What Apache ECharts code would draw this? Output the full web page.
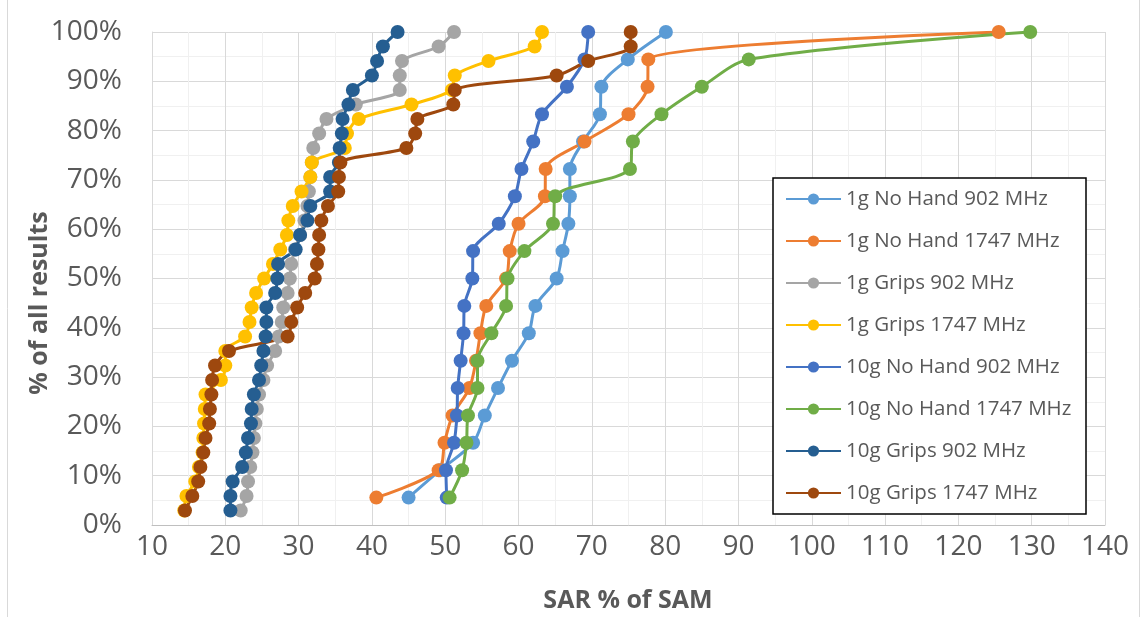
<!DOCTYPE html>
<html>
<head>
<meta charset="utf-8">
<script src="https://cdn.jsdelivr.net/npm/echarts@6/dist/echarts.min.js"></script>
<style>
  html, body { margin: 0; padding: 0; background: #ffffff; }
  #chart { width: 1143px; height: 617px; }
</style>
</head>
<body>
<div id="chart"></div>
<script>
// Cumulative share of results (%) for each measured point
const levelsNoHand = [5.56, 11.11, 16.67, 22.22, 27.78, 33.33, 38.89, 44.44, 50.00,
  55.56, 61.11, 66.67, 72.22, 77.78, 83.33, 88.89, 94.44, 100];
const levelsGrips = [2.94, 5.88, 8.82, 11.76, 14.71, 17.65, 20.59, 23.53, 26.47, 29.41,
  32.35, 35.29, 38.24, 41.18, 44.12, 47.06, 50.00, 52.94, 55.88, 58.82, 61.76, 64.71,
  67.65, 70.59, 73.53, 76.47, 79.41, 82.35, 85.29, 88.24, 91.18, 94.12, 97.06, 100];

// SAR as % of SAM, sorted ascending per configuration
const sar1gNoHand902 = [45.0, 49.3, 53.8, 55.4, 57.2, 59.1, 61.4, 62.3, 65.2, 66.0, 66.8,
  67.0, 67.0, 68.8, 71.1, 71.3, 74.9, 80.1];
const sar1gNoHand1747 = [40.6, 49.1, 49.9, 51.0, 53.3, 54.2, 54.8, 55.6, 58.3, 58.8, 60.0,
  63.6, 63.7, 69.0, 75.0, 77.6, 77.7, 125.5];
const sar1gGrips902 = [22.1, 22.9, 23.1, 23.4, 23.7, 23.9, 24.1, 24.3, 24.6, 25.2, 25.7,
  26.8, 27.3, 27.7, 27.9, 28.5, 28.8, 29.0, 29.5, 30.2, 30.8, 31.2, 31.4, 31.6, 31.8,
  32.0, 32.8, 33.8, 37.8, 43.8, 43.8, 44.1, 49.1, 51.2];
const sar1gGrips1747 = [14.4, 14.7, 15.9, 16.4, 16.9, 17.0, 17.1, 17.2, 17.3, 19.4, 20.0,
  20.0, 22.7, 23.3, 23.6, 24.2, 25.3, 26.5, 27.5, 28.4, 28.6, 29.2, 30.4, 31.6, 31.8,
  36.3, 36.6, 38.2, 45.4, 50.9, 51.3, 55.9, 62.2, 63.2];
const sar10gNoHand902 = [50.2, 50.1, 51.2, 51.6, 51.7, 52.1, 52.5, 52.6, 53.7, 53.8, 57.3,
  59.5, 60.4, 62.0, 63.2, 66.6, 69.0, 69.5];
const sar10gNoHand1747 = [50.6, 52.3, 52.9, 53.1, 54.4, 54.4, 56.3, 58.3, 58.5, 60.8, 64.7,
  65.0, 75.2, 75.6, 79.5, 85.0, 91.4, 129.8];
const sar10gGrips902 = [20.7, 20.7, 21.0, 22.3, 22.8, 23.1, 23.5, 23.6, 23.9, 24.6, 24.9,
  25.2, 25.5, 25.6, 25.6, 26.8, 27.1, 27.2, 29.6, 30.2, 31.2, 31.6, 34.3, 34.3, 35.5,
  35.6, 35.9, 36.0, 36.8, 37.4, 40.0, 40.7, 41.5, 43.5];
const sar10gGrips1747 = [14.5, 15.5, 16.3, 16.6, 17.0, 17.3, 17.8, 17.9, 18.1, 18.2, 18.6,
  20.5, 28.5, 29.0, 29.8, 30.9, 32.2, 32.5, 32.7, 32.8, 33.1, 34.0, 35.4, 35.5, 35.7,
  44.7, 45.9, 46.2, 51.1, 51.3, 65.2, 69.5, 75.3, 75.3];

const seriesNames = ['1g No Hand 902 MHz', '1g No Hand 1747 MHz', '1g Grips 902 MHz',
  '1g Grips 1747 MHz', '10g No Hand 902 MHz', '10g No Hand 1747 MHz',
  '10g Grips 902 MHz', '10g Grips 1747 MHz'];
const seriesValues = [sar1gNoHand902, sar1gNoHand1747, sar1gGrips902, sar1gGrips1747,
  sar10gNoHand902, sar10gNoHand1747, sar10gGrips902, sar10gGrips1747];
const seriesLevels = [levelsNoHand, levelsNoHand, levelsGrips, levelsGrips,
  levelsNoHand, levelsNoHand, levelsGrips, levelsGrips];
const seriesColors = ['#5B9BD5', '#ED7D31', '#A5A5A5', '#FFC000',
  '#4472C4', '#70AD47', '#255E91', '#9E480E'];

const xTitle = 'SAR % of SAM';
const yTitle = '% of all results';

const fontFamily = '"Open Sans", "Noto Sans", sans-serif';
const textColor = '#595959';

const chart = echarts.init(document.getElementById('chart'), null, { renderer: 'canvas' });

const series = seriesNames.map((name, i) => ({
  name: name,
  type: 'line',
  smooth: 0.3,
  symbol: 'circle',
  symbolSize: 14,
  showSymbol: true,
  color: seriesColors[i],
  lineStyle: { width: 3, color: seriesColors[i] },
  itemStyle: { color: seriesColors[i] },
  emphasis: { disabled: true },
  animation: false,
  data: seriesValues[i].map((x, k) => [x, seriesLevels[i][k]])
}));

chart.setOption({
  backgroundColor: '#ffffff',
  animation: false,
  grid: { left: 152, right: 38, top: 32, bottom: 92, containLabel: false, outerBoundsMode: 'none' },
  xAxis: {
    type: 'value',
    min: 10, max: 140, interval: 10,
    axisLine: { show: true, lineStyle: { color: '#BFBFBF', width: 1 } },
    axisTick: { show: false },
    axisLabel: { fontFamily: fontFamily, fontSize: 28, color: textColor, margin: 8 },
    splitLine: { show: true, lineStyle: { color: '#D9D9D9', width: 1 } },
    minorTick: { show: false, splitNumber: 2 },
    minorSplitLine: { show: true, lineStyle: { color: '#F0F0F0', width: 1 } }
  },
  yAxis: {
    type: 'value',
    min: 0, max: 100, interval: 10,
    axisLine: { show: true, lineStyle: { color: '#D9D9D9', width: 1 } },
    axisTick: { show: false },
    axisLabel: { fontFamily: fontFamily, fontSize: 28, color: textColor, margin: 30,
      formatter: '{value}%' },
    splitLine: { show: true, lineStyle: { color: '#D9D9D9', width: 1 } },
    minorTick: { show: false, splitNumber: 2 },
    minorSplitLine: { show: true, lineStyle: { color: '#F0F0F0', width: 1 } }
  },
  legend: {
    orient: 'vertical',
    left: 773,
    top: 178,
    backgroundColor: '#ffffff',
    borderColor: '#000000',
    borderWidth: 1.5,
    borderRadius: 0,
    padding: [9, 12, 9, 12],
    itemWidth: 55,
    itemHeight: 14,
    itemGap: 18,
    textStyle: { fontFamily: fontFamily, fontSize: 20.5, color: textColor, width: 228, lineHeight: 24 },
    data: seriesNames
  },
  graphic: [
    // chart-area frame edges
    {
      type: 'line', silent: true,
      shape: { x1: 7.5, y1: 0, x2: 7.5, y2: 617 },
      style: { stroke: '#D9D9D9', lineWidth: 1 }
    },
    {
      type: 'line', silent: true,
      shape: { x1: 1139.5, y1: 0, x2: 1139.5, y2: 617 },
      style: { stroke: '#D9D9D9', lineWidth: 1 }
    },
    {
      type: 'text',
      x: 628, y: 601,
      style: { text: xTitle, fontFamily: fontFamily, fontSize: 25, fontWeight: 'bold',
        fill: textColor, align: 'center', verticalAlign: 'middle' }
    },
    {
      type: 'text',
      x: 40, y: 303,
      rotation: Math.PI / 2,
      style: { text: yTitle, fontFamily: fontFamily, fontSize: 25, fontWeight: 'bold',
        fill: textColor, align: 'center', verticalAlign: 'middle' }
    }
  ],
  series: series
});
</script>
</body>
</html>
